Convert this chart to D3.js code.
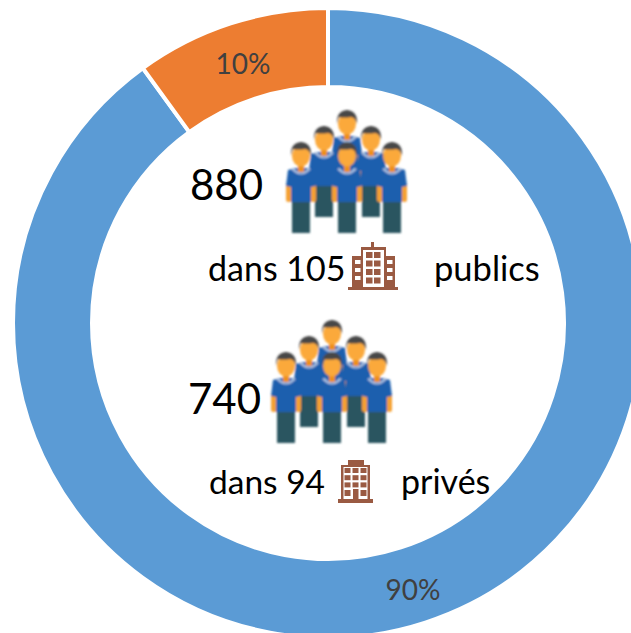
<!DOCTYPE html>
<html><head><meta charset="utf-8">
<style>html,body{margin:0;padding:0;background:#fff;overflow:hidden}svg{display:block}text{font-family:Lato,sans-serif}</style>
<script src="https://cdn.jsdelivr.net/npm/d3@7/dist/d3.min.js"></script></head>
<body><svg id="c" width="631" height="633"></svg>
<script>
const categories = ["Blue", "Orange"];
const shares = [90, 10];
const labels = ["90%", "10%"];
const colours = ["#5B9BD5", "#ED7D31"];

const svg = d3.select("#c");
const g = svg.append("g").attr("transform", "translate(328,323)");
const pie = d3.pie().sort(null).value(d => d);
const arc = d3.arc().innerRadius(236).outerRadius(315);
g.selectAll("path").data(pie(shares)).join("path")
  .attr("d", arc).attr("fill", (d,i) => colours[i])
  .attr("stroke", "#fff").attr("stroke-width", 4);

const labelPos = [[413,589],[243,63]];
svg.selectAll("text.pct").data(labels).join("text").attr("class","pct")
  .attr("x",(d,i)=>labelPos[i][0]).attr("y",(d,i)=>labelPos[i][1])
  .attr("text-anchor","middle").attr("dominant-baseline","central")
  .attr("font-size",28).attr("fill","#404040").text(d=>d);

const defs = svg.append("defs");
defs.append("filter").attr("id","soft").attr("x","-10%").attr("y","-10%").attr("width","120%").attr("height","120%")
  .append("feGaussianBlur").attr("stdDeviation",0.9);
defs.append("filter").attr("id","soft2").attr("x","-10%").attr("y","-10%").attr("width","120%").attr("height","120%")
  .append("feGaussianBlur").attr("stdDeviation",0.35);

function person(sel, x, y) {
  const p = sel.append("g").attr("transform",`translate(${x},${y})`);
  // pants
  p.append("rect").attr("x",-9).attr("y",40).attr("width",18).attr("height",38).attr("fill","#2B5560");
  // arms
  p.append("rect").attr("x",-15).attr("y",28).attr("width",5.5).attr("height",19).attr("rx",2.5).attr("fill","#F5A030");
  p.append("rect").attr("x",9.5).attr("y",28).attr("width",5.5).attr("height",19).attr("rx",2.5).attr("fill","#F5A030");
  // shirt
  p.append("path").attr("d","M-6,13 L6,13 L13,15 L15,31 L10,32 L10,47 L-10,47 L-10,32 L-15,31 L-13,15 Z").attr("fill","#1F5FAE");
  p.append("path").attr("d","M-7,13 Q0,22 7,13 L10,14 Q0,25 -10,14 Z").attr("fill","#A9BFE0");
  // neck and head
  p.append("rect").attr("x",-3).attr("y",8).attr("width",6).attr("height",9).attr("fill","#EE8F1F");
  p.append("ellipse").attr("cx",0).attr("cy",1).attr("rx",9).attr("ry",10.5).attr("fill","#FBA93B");
  p.append("path").attr("d","M-10,1 Q-11,-12 0,-13 Q11,-12 10,1 Q8,-6 4,-6 Q-3,-5 -8,-6 Q-9,-4 -10,1 Z").attr("fill","#474747");
}

const crowdX = [0,-23,24,-46,0,45];
const crowdY = [-32,-16,-16,0,0,0];
const crowdOrigins = [[347,155],[332,365]];
crowdOrigins.forEach(o=>{
  const grp = svg.append("g").attr("filter","url(#soft)");
  crowdX.forEach((dx,i)=>person(grp,o[0]+dx,o[1]+crowdY[i]));
});

const brown = "#9A5A42";
// public building
const b1 = svg.append("g").attr("transform","translate(348,242)").attr("filter","url(#soft2)");
b1.append("rect").attr("x",23).attr("y",0).attr("width",3).attr("height",7).attr("fill",brown);
b1.append("rect").attr("x",13).attr("y",5).attr("width",25).attr("height",41).attr("fill",brown);
b1.append("rect").attr("x",4).attr("y",14).attr("width",43).attr("height",32).attr("fill",brown);
b1.append("rect").attr("x",0).attr("y",45).attr("width",50).attr("height",3).attr("fill",brown);
b1.append("rect").attr("x",15).attr("y",8).attr("width",21).attr("height",37).attr("fill","#fff");
[0,1].forEach(c=>d3.range(4).forEach(r=>b1.append("rect").attr("x",18+c*8).attr("y",10+r*8.5).attr("width",6.5).attr("height",6).attr("fill",brown)));
[7,39].forEach(x=>d3.range(3).forEach(r=>b1.append("rect").attr("x",x).attr("y",18+r*8).attr("width",5.5).attr("height",4).attr("fill","#fff")));

// private building
const b2 = svg.append("g").attr("transform","translate(338,460)").attr("filter","url(#soft2)");
b2.append("rect").attr("x",10).attr("y",0).attr("width",16).attr("height",6).attr("fill",brown);
b2.append("rect").attr("x",3).attr("y",5).attr("width",29).attr("height",35).attr("fill",brown);
b2.append("rect").attr("x",5.5).attr("y",7).attr("width",24).attr("height",32).attr("fill","#fff");
b2.append("rect").attr("x",0).attr("y",39).attr("width",35).attr("height",4).attr("fill",brown);
[0,1,2].forEach(c=>d3.range(3).forEach(r=>b2.append("rect").attr("x",6.5+c*8).attr("y",8+r*7.2).attr("width",6).attr("height",5).attr("fill",brown)));
b2.append("rect").attr("x",6.5).attr("y",30).attr("width",6).attr("height",6).attr("fill",brown);
b2.append("rect").attr("x",22.5).attr("y",30).attr("width",6).attr("height",6).attr("fill",brown);
b2.append("rect").attr("x",15).attr("y",29).attr("width",5.5).attr("height",11).attr("fill",brown);

// text
const texts = ["880","dans 105","publics","740","dans 94","privés"];
const textX = [190,208,434,188,209,401];
const textY = [200,281,281,414,494,494];
const textS = [42,34,34.5,42,33.5,34];
svg.selectAll("text.t").data(texts).join("text").attr("class","t")
  .attr("x",(d,i)=>textX[i]).attr("y",(d,i)=>textY[i]).attr("font-size",(d,i)=>textS[i])
  .attr("fill","#000").text(d=>d);
</script></body></html>
